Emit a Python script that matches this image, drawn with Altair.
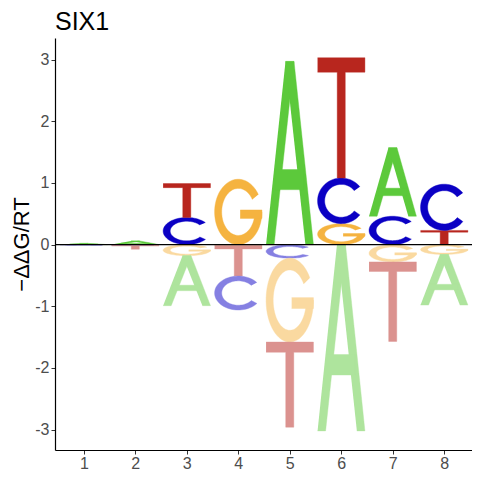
import altair as alt
import numpy as np
import pandas as pd

# ---- data ----
positions = [1, 2, 3, 4, 5, 6, 7, 8]
val_A = [0.02, 0.06, -0.81, -0.01, 2.97, -3.02, 1.11, -0.82]
val_C = [-0.01, -0.015, 0.44, -0.55, -0.22, 0.74, 0.46, 0.75]
val_G = [0.0, 0.0, -0.18, 1.06, -1.36, 0.34, -0.28, -0.16]
val_T = [0.0, -0.06, 0.55, -0.50, -1.38, 1.95, -1.29, 0.23]
y_ticks = [-3, -2, -1, 0, 1, 2, 3]

colors_pos = {"A": "#5CC93B", "C": "#0B00C4", "G": "#F5B340", "T": "#B8261E"}
colors_neg = {"A": "#AEE49D", "C": "#8580E2", "G": "#FAD9A0", "T": "#DB928F"}

# ---- glyph templates in a unit box (shape definitions, not data) ----
def ring(a0, a1, n=60, tx=0.15, ty=0.14):
    t = np.radians(np.linspace(a0, a1, n))
    outer = [(0.5 + 0.5 * np.cos(a), 0.5 + 0.5 * np.sin(a)) for a in t]
    inner = [(0.5 + (0.5 - tx) * np.cos(a), 0.5 + (0.5 - ty) * np.sin(a)) for a in t[::-1]]
    return outer + inner

glyphs = {
    "T": [[(0, 1), (1, 1), (1, 0.88), (0.585, 0.88), (0.585, 0), (0.415, 0), (0.415, 0.88), (0, 0.88)]],
    "A": [
        [(0, 0), (0.17, 0), (0.59, 1), (0.41, 1)],
        [(0.83, 0), (1, 0), (0.59, 1), (0.41, 1)],
        [(0.2, 0.30), (0.8, 0.30), (0.8, 0.41), (0.2, 0.41)],
    ],
    "C": [ring(38, 322)],
    "G": [ring(32, 360), [(0.54, 0.40), (1.0, 0.40), (1.0, 0.53), (0.54, 0.53)]],
}

letters = {"A": val_A, "C": val_C, "G": val_G, "T": val_T}
half_w = 0.46
rows = []
pid = 0
for k, p in enumerate(positions):
    vals = [(L, letters[L][k]) for L in "ACGT"]
    pos = sorted([v for v in vals if v[1] > 0], key=lambda v: v[1])
    neg = sorted([v for v in vals if v[1] < 0], key=lambda v: -v[1])
    stacks = []
    base = 0.0
    for L, v in pos:
        stacks.append((L, base, base + v, colors_pos[L]))
        base += v
    base = 0.0
    for L, v in neg:
        stacks.append((L, base + v, base, colors_neg[L]))
        base += v
    for L, y0, y1, col in stacks:
        for poly in glyphs[L]:
            for i, (u, w) in enumerate(poly):
                rows.append({"x": p - half_w + u * 2 * half_w,
                             "y": y0 + w * (y1 - y0),
                             "pid": pid, "i": i, "col": col})
            pid += 1

df = pd.DataFrame(rows)

xscale = alt.Scale(domain=[0.44, 8.54], nice=False, zero=False)
yscale = alt.Scale(domain=[-3.33, 3.35], nice=False, zero=False)

logo = alt.Chart(df).mark_line(filled=True, strokeWidth=0.4).encode(
    x=alt.X("x:Q", scale=xscale,
            axis=alt.Axis(values=positions, title=None, grid=False, labelFontSize=16,
                          labelColor="#4D4D4D", tickColor="#333333", domainColor="black",
                          domainWidth=1.2, tickSize=4, labelPadding=1,
                          labelFont="Liberation Sans")),
    y=alt.Y("y:Q", scale=yscale,
            axis=alt.Axis(values=y_ticks, title="−ΔΔG/RT", grid=False, labelFontSize=16,
                          labelColor="#4D4D4D", tickColor="#333333", domainColor="black",
                          domainWidth=1.2, tickSize=4, labelPadding=2,
                          labelExpr="toString(datum.value)",
                          titleFontSize=22, titleFontWeight="normal", titleColor="black",
                          titlePadding=1, titleFont="Liberation Sans",
                          labelFont="Liberation Sans")),
    order=alt.Order("i:Q"),
    detail="pid:N",
    fill=alt.Fill("col:N", scale=None),
    stroke=alt.Stroke("col:N", scale=None),
)

zero = alt.Chart(pd.DataFrame({"z": [0]})).mark_rule(color="black", strokeWidth=1.2).encode(
    y=alt.Y("z:Q", scale=yscale)
)

chart = alt.layer(logo, zero).properties(
    width=417, height=412,
    autosize=alt.AutoSizeParams(type="none"),
    padding={"left": 47, "top": 30, "right": 0, "bottom": 22},
    title=alt.TitleParams("SIX1", anchor="start", fontSize=25, fontWeight="normal",
                          font="Liberation Sans", color="black", offset=3, frame="group"),
).configure_view(stroke=None)

chart.save("out.html", embed_options={"renderer": "svg", "actions": False})
